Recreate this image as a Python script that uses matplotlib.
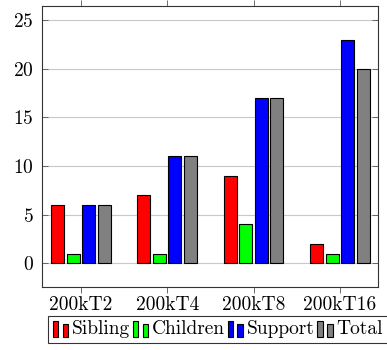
import numpy as np
import matplotlib
matplotlib.use("Agg")
from matplotlib import pyplot as plt
from matplotlib.patches import Rectangle
from matplotlib.legend_handler import HandlerBase

plt.rcParams['font.family'] = ['cmr10', 'DejaVu Serif']
plt.rcParams['axes.formatter.use_mathtext'] = True

runs = ['200kT2', '200kT4', '200kT8', '200kT16']
sibling = [6, 7, 9, 2]
children = [1, 1, 4, 1]
support = [6, 11, 17, 23]
total = [6, 11, 17, 20]

series = [('Sibling', sibling, '#ff0000'),
          ('Children', children, '#00ff00'),
          ('Support', support, '#0000ff'),
          ('Total', total, '#808080')]


class TwoBars(HandlerBase):
    # pgfplots-style ybar legend image: two small bars
    def create_artists(self, legend, orig, xd, yd, w, h, fontsize, trans):
        bw = w * 0.36
        fc = orig.get_facecolor()
        y0 = -yd - h * 0.2
        r1 = Rectangle((-xd, y0), bw, h * 1.2,
                       facecolor=fc, edgecolor='black', lw=0.8, transform=trans)
        r2 = Rectangle((-xd + w - bw, y0), bw, h * 0.95,
                       facecolor=fc, edgecolor='black', lw=0.8, transform=trans)
        return [r1, r2]


fig = plt.figure(figsize=(3.87, 3.5), dpi=100)
ax = fig.add_axes([42 / 387, (350 - 286.7) / 350, (378.3 - 42) / 387, (286.7 - 6) / 350])

x = np.arange(len(runs))
step = 0.18
handles = []
for i, (name, vals, col) in enumerate(series):
    b = ax.bar(x + (i - 1.5) * step, vals, width=0.15, color=col,
               edgecolor='black', linewidth=0.8, label=name, zorder=3)
    handles.append(b.patches[0])

ax.set_xlim(-0.45, 3.445)
ax.set_ylim(-2.4, 26.45)
ax.set_xticks(x)
ax.set_xticklabels(runs)
ax.set_yticks([0, 5, 10, 15, 20, 25])
ax.yaxis.grid(True, color='#c8c8c8', lw=0.8, zorder=0)
ax.tick_params(axis='x', direction='out', top=True, length=4.5, width=0.6,
               labelsize=14, pad=2, color='#555555')
ax.tick_params(axis='y', direction='in', right=True, length=4.5, width=0.6,
               labelsize=14, pad=6, color='#555555')
for s in ax.spines.values():
    s.set_linewidth(0.8)
    s.set_color('#333333')

leg = fig.legend(handles, [s[0] for s in series], ncol=4,
                 loc='upper left', bbox_to_anchor=(48 / 387, 1 - 315.5 / 350),
                 handler_map={h: TwoBars() for h in handles},
                 fontsize=14, frameon=True, fancybox=False, edgecolor='black',
                 handlelength=0.8, handleheight=0.7, handletextpad=0.2,
                 columnspacing=0.12, borderpad=0.25, borderaxespad=0)
leg.get_frame().set_linewidth(0.8)

fig.savefig('out.png', dpi=100)
